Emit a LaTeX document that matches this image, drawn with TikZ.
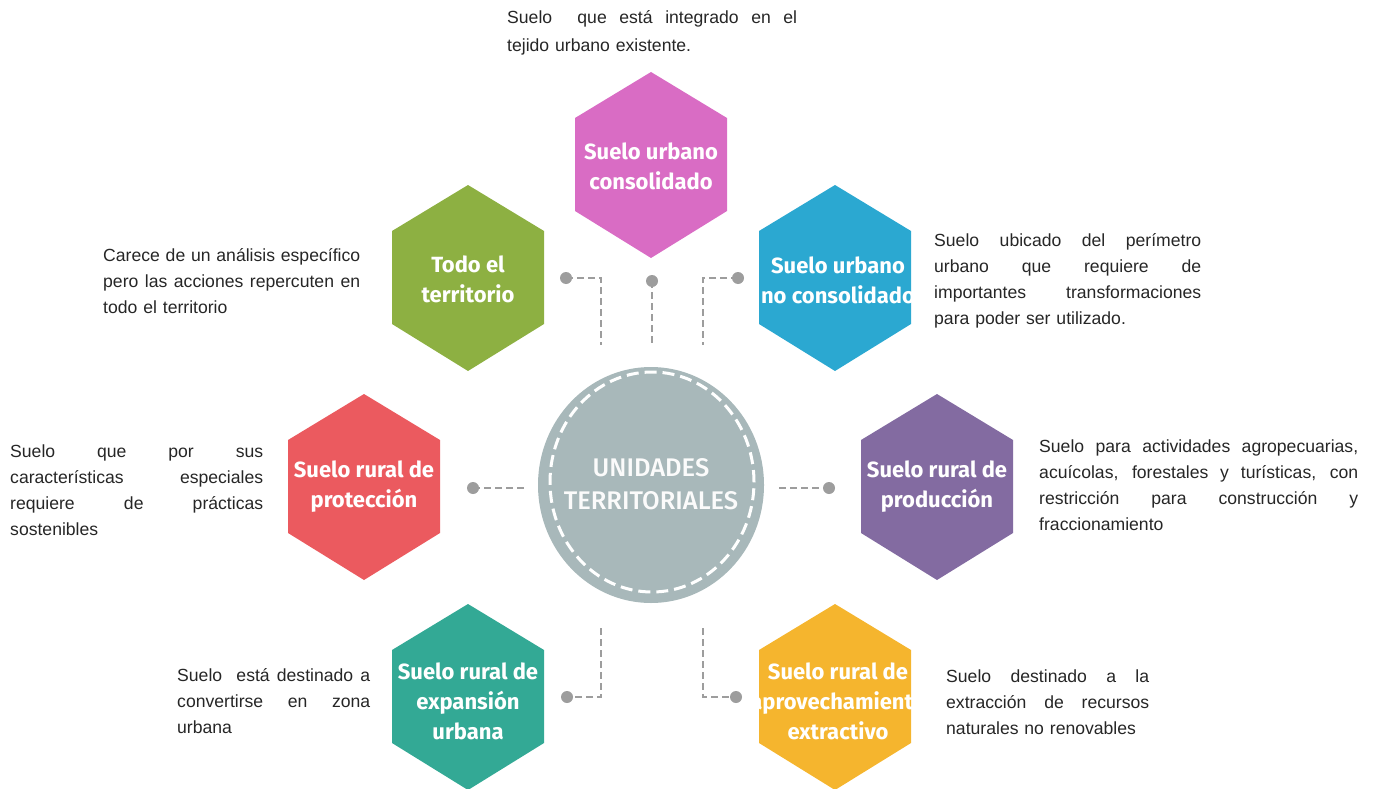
\documentclass[tikz,border=0pt]{standalone}
\usepackage{fontspec}
\setmainfont{Liberation Sans}
\newfontfamily\cellfont{Fira Sans}
\newfontfamily\hubfont{Fira Sans Medium}

\definecolor{pinkcell}{HTML}{D96CC4}
\definecolor{greencell}{HTML}{8DB042}
\definecolor{bluecell}{HTML}{2BA8D1}
\definecolor{redcell}{HTML}{EB5A5F}
\definecolor{purplecell}{HTML}{836BA1}
\definecolor{tealcell}{HTML}{33A995}
\definecolor{orangecell}{HTML}{F5B52E}
\definecolor{hubgray}{HTML}{A8B8BA}
\definecolor{linkgray}{HTML}{9D9D9D}
\definecolor{descgray}{HTML}{262626}

% hexagon around a centre point
\newcommand{\hexa}[2]{\fill[#1] (#2) ++(0,-93) -- ++(76,46) -- ++(0,93) -- ++(-76,47) -- ++(-76,-47) -- ++(0,-93) -- cycle;}
% justified line
\newlength{\desclen}
\newcommand{\jl}[1]{\leavevmode\hbox to \desclen{\spaceskip=0pt\xspaceskip=0pt #1}}

\begin{document}
\begin{tikzpicture}[x=1pt,y=-1pt,
  cell/.style={font=\cellfont\bfseries\fontsize{22}{30}\selectfont, text=white, align=center, inner sep=0pt},
  desc/.style={font=\fontsize{17.6}{26}\selectfont, text=descgray, align=left, anchor=north west, inner sep=0pt,
    text width=#1, execute at begin node={\setlength{\desclen}{#1}}},
  hubtext/.style={font=\hubfont\fontsize{25.5}{33}\selectfont, text=white!95!hubgray, align=center, inner sep=0pt},
  hubring/.style={draw=white, line width=3pt, dash pattern=on 12pt off 6pt},
  link/.style={draw=linkgray, line width=2.5pt, dash pattern=on 7pt off 4pt},
  dot/.style={circle, fill=linkgray, minimum size=12pt, inner sep=0pt}]
\useasboundingbox (0,0) rectangle (1375,789);

% hexagons
\hexa{pinkcell}{651,165}
\hexa{greencell}{468,278}
\hexa{bluecell}{835,278}
\hexa{redcell}{364,487}
\hexa{purplecell}{937,487}
\hexa{tealcell}{468,697}
\hexa{orangecell}{835,697}

\node[cell] (pink) at (651,166) {Suelo urbano\\consolidado};
\node[cell] (green) at (468,279) {Todo el\\territorio};
\node[cell] (blue) at (838,280) {Suelo urbano\\no consolidado};
\node[cell] (red) at (364,487) {Suelo rural de\\protección};
\node[cell] (purple) at (937,487) {Suelo rural de\\producción};
\node[cell] (teal) at (468,701) {Suelo rural de\\expansión\\urbana};
\node[cell] (orange) at (838,701) {Suelo rural de\\aprovechamiento\\extractivo};

% centre
\fill[hubgray] (651,485) ellipse [x radius=113pt, y radius=118pt];
\draw[hubring] (652,482) ellipse [x radius=102pt, y radius=110pt];
\node[hubtext] (hub) at (651,484) {UNIDADES\\TERRITORIALES};

% connectors
\node[dot] (d1) at (566,278) {};
\node[dot] (d2) at (652,281) {};
\node[dot] (d3) at (738,278) {};
\node[dot] (d4) at (473,488) {};
\node[dot] (d5) at (829,488) {};
\node[dot] (d6) at (567,697) {};
\node[dot] (d7) at (736,697) {};
\coordinate (e1) at (601,345);
\coordinate (e2) at (652,345);
\coordinate (e3) at (703,345);
\coordinate (e4) at (525,488);
\coordinate (e5) at (779,488);
\coordinate (e6) at (601,628);
\coordinate (e7) at (703,628);
\draw[link] (d1.center) -| (e1);
\draw[link] (d2.center) -- (e2);
\draw[link] (d3.center) -| (e3);
\draw[link] (d4.center) -- (e4);
\draw[link] (e5) -- (d5.center);
\draw[link] (e6) |- (d6.center);
\draw[link] (e7) |- (d7.center);

% descriptions
\node[desc=290pt, font=\fontsize{17.6}{28}\selectfont] (pinkdesc) at (507,10) {\jl{Suelo\ \ que está integrado en el}\\tejido urbano existente.};
\node[desc=257pt] (greendesc) at (103,248) {\jl{Carece de un análisis específico}\\\jl{pero las acciones repercuten en}\\todo el territorio};
\node[desc=267pt] (bluedesc) at (934,233) {\jl{Suelo ubicado del perímetro}\\\jl{urbano que requiere de}\\\jl{importantes transformaciones}\\para poder ser utilizado.};
\node[desc=253pt] (reddesc) at (10,445) {\jl{Suelo que por sus}\\\jl{características especiales}\\\jl{requiere de prácticas}\\sostenibles};
\node[desc=319pt] (purpledesc) at (1039,440) {\jl{Suelo para actividades agropecuarias,}\\\jl{acuícolas, forestales y turísticas, con}\\\jl{restricción para construcción y}\\fraccionamiento};
\node[desc=193pt] (tealdesc) at (177,668) {\jl{Suelo\ \ está destinado a}\\\jl{convertirse en zona}\\urbana};
\node[desc=203pt] (orangedesc) at (946,670) {\jl{Suelo destinado a la}\\\jl{extracción de recursos}\\naturales no renovables};
\end{tikzpicture}
\end{document}
